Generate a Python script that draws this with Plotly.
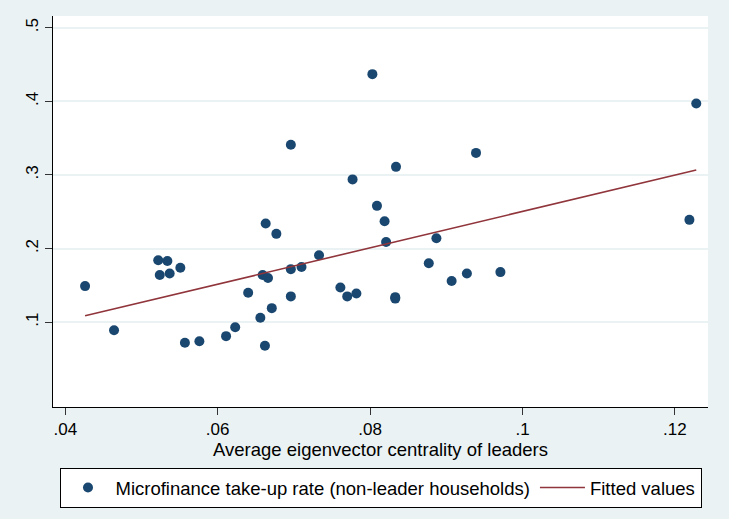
import numpy as np
import plotly.graph_objects as go

# Average eigenvector centrality of leaders (x) and microfinance take-up rate (y)
centrality = [0.0696, 0.0777, 0.0663, 0.0677, 0.0733,
              0.0803, 0.1228, 0.0939, 0.0834, 0.0809, 0.0819, 0.0821, 0.0887, 0.1219,
              0.0426, 0.0464, 0.0522, 0.0534, 0.0524, 0.0537, 0.0551, 0.0557, 0.0576,
              0.0611, 0.0623, 0.0640, 0.0656, 0.0659, 0.0666, 0.0671, 0.0662, 0.0696,
              0.0710, 0.0696, 0.0761, 0.0770, 0.0782,
              0.0877, 0.0907, 0.0927, 0.0971, 0.0833, 0.0833]
takeup = [0.341, 0.294, 0.234, 0.220, 0.191,
          0.437, 0.397, 0.330, 0.311, 0.258, 0.237, 0.209, 0.214, 0.239,
          0.149, 0.089, 0.184, 0.183, 0.164, 0.166, 0.174, 0.072, 0.074,
          0.081, 0.093, 0.140, 0.106, 0.164, 0.160, 0.119, 0.068, 0.172,
          0.175, 0.135, 0.147, 0.135, 0.139,
          0.180, 0.156, 0.166, 0.168, 0.134, 0.132]

x_tickvals = [0.04, 0.06, 0.08, 0.10, 0.12]
x_ticktext = [".04", ".06", ".08", ".1", ".12"]
y_tickvals = [0.1, 0.2, 0.3, 0.4, 0.5]
y_ticktext = [".1", ".2", ".3", ".4", ".5"]

slope, intercept = np.polyfit(centrality, takeup, 1)
fit_x = [min(centrality), max(centrality)]
fit_y = [intercept + slope * v for v in fit_x]

BG = "#EAF2F3"
FONT = "Liberation Sans, Arial, sans-serif"

fig = go.Figure()
fig.add_trace(go.Scatter(
    x=centrality, y=takeup, mode="markers",
    name="Microfinance take-up rate (non-leader households)",
    marker=dict(color="#1A476F", size=10, line=dict(width=0)),
))
fig.add_trace(go.Scatter(
    x=fit_x, y=fit_y, mode="lines", name="Fitted values",
    line=dict(color="#90353B", width=1.6),
))

fig.update_layout(
    width=729, height=519,
    margin=dict(l=53, r=21, t=16, b=111),
    paper_bgcolor=BG, plot_bgcolor="white",
    font=dict(family=FONT, size=17, color="black"),
    showlegend=True,
    legend=dict(
        orientation="h", x=0.5, xanchor="center", y=-0.153, yanchor="top",
        bgcolor="white", bordercolor="black", borderwidth=1,
        font=dict(size=18.5), itemwidth=45, tracegroupgap=0,
    ),
)
fig.update_xaxes(
    range=[0.03839, 0.12434], tickvals=x_tickvals, ticktext=x_ticktext,
    showgrid=False, zeroline=False,
    showline=True, linecolor="black", linewidth=1,
    ticks="outside", ticklen=7, tickcolor="#333", tickwidth=1,
    title=dict(text="Average eigenvector centrality of leaders", font=dict(size=18.5), standoff=0),
)
fig.update_yaxes(
    range=[-0.0153, 0.516], tickvals=y_tickvals, ticktext=y_ticktext,
    showgrid=True, gridcolor=BG, gridwidth=1.5, zeroline=False,
    showline=True, linecolor="black", linewidth=1,
    ticks="outside", ticklen=7, tickcolor="#333", tickwidth=1,
    tickangle=-90,
)

fig.write_html("out.html", config={"displayModeBar": False},
               post_script="document.body.style.margin='0';")
